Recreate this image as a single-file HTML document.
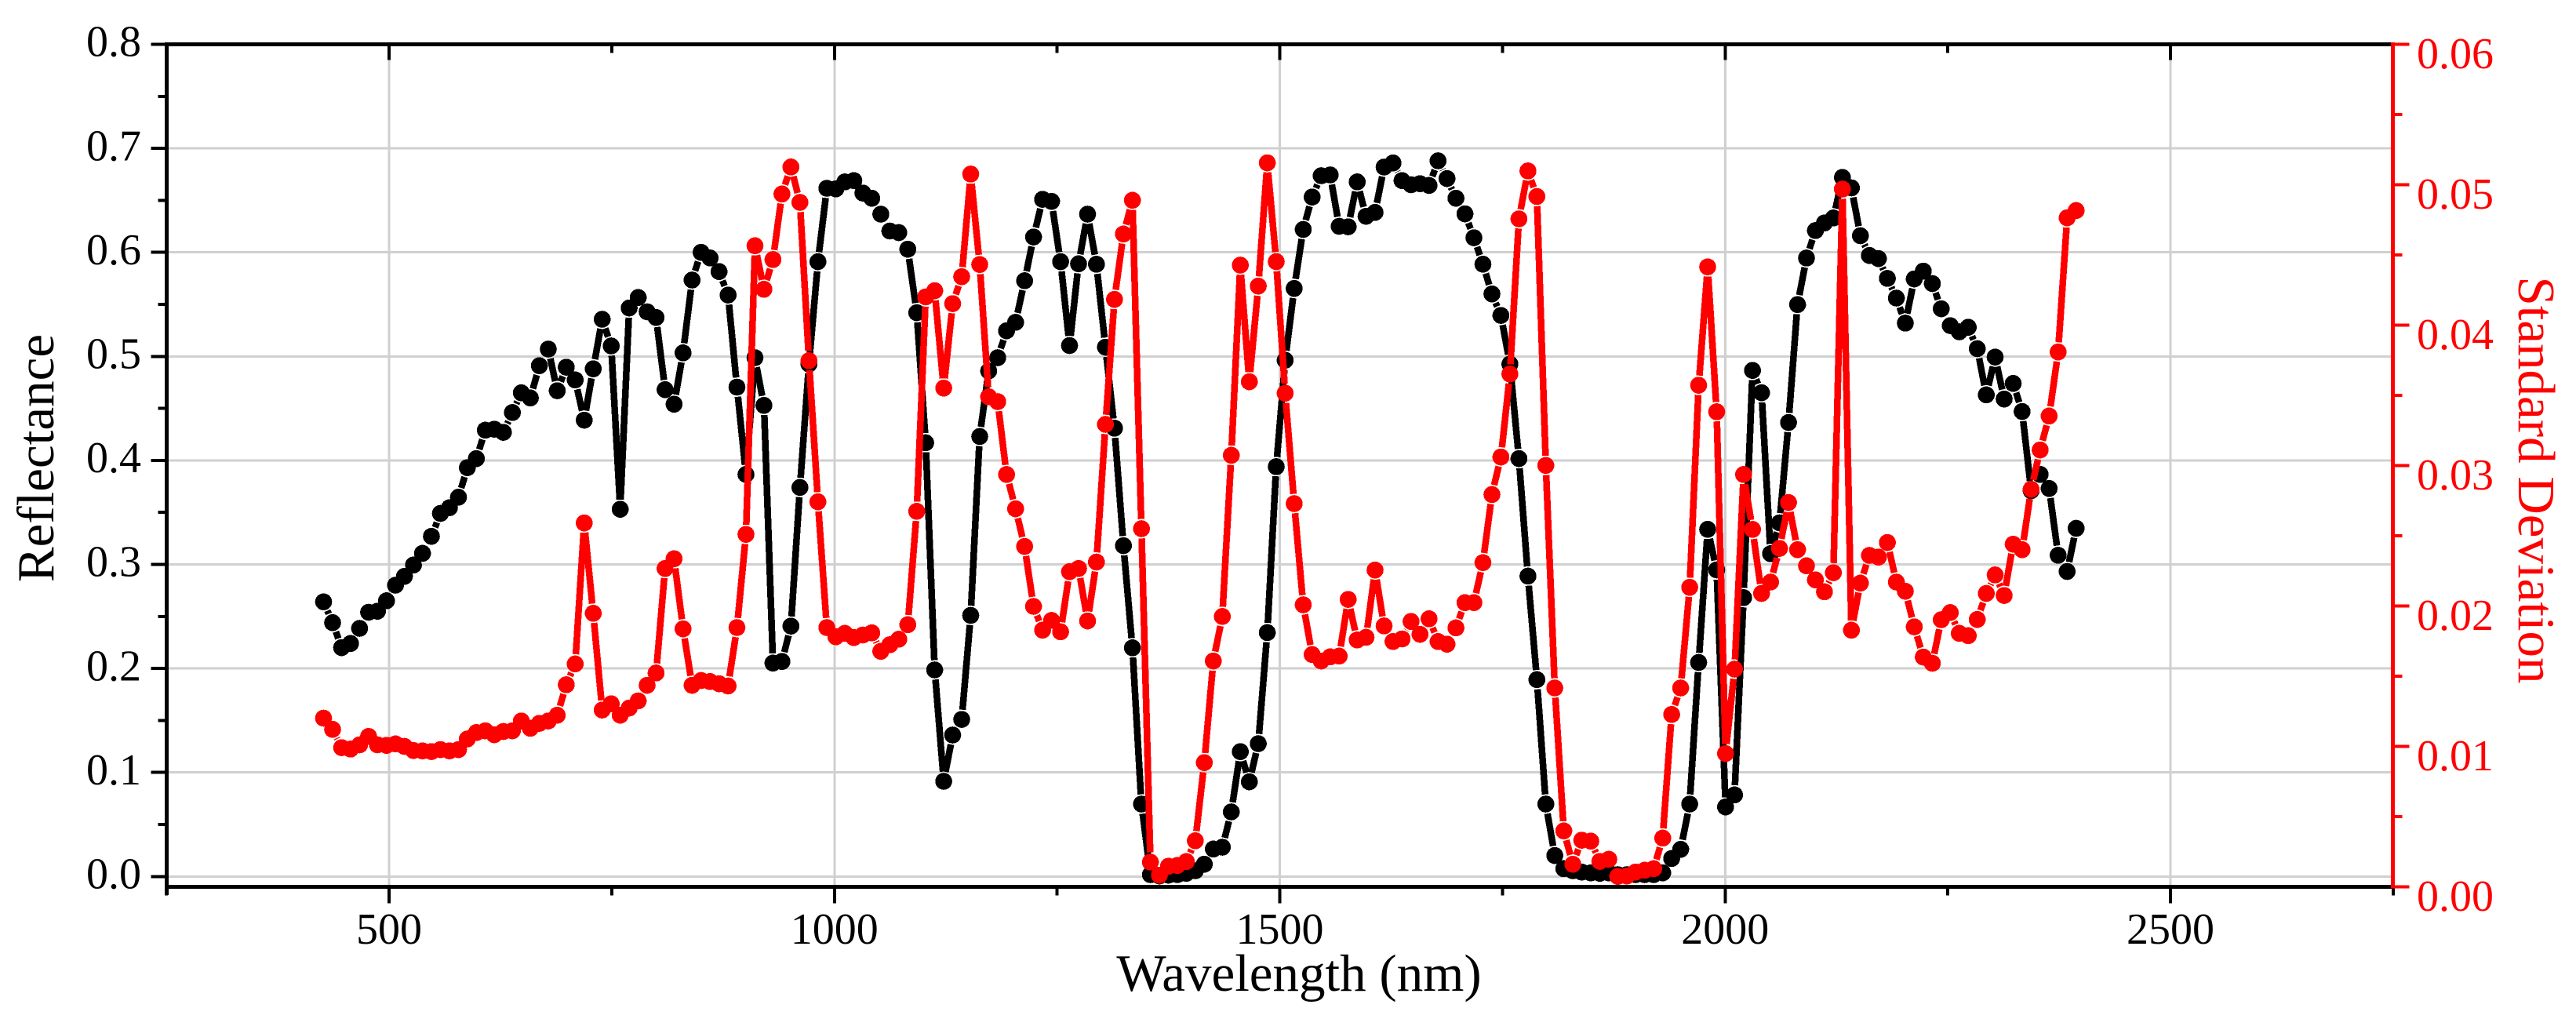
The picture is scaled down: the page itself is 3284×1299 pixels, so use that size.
<!DOCTYPE html>
<html lang="en">
<head>
<meta charset="utf-8">
<title>Reflectance and standard deviation by wavelength</title>
<style>
html,body{margin:0;padding:0;background:#fff;}
svg{display:block;font-family:"Liberation Serif","Times New Roman",serif;}
#grid,#series-black,#series-red,#axes{shape-rendering:crispEdges;}
</style>
</head>
<body>
<svg id="chart" xmlns="http://www.w3.org/2000/svg" width="3284" height="1299" viewBox="0 0 3284 1299">
  <rect x="0" y="0" width="3284" height="1299" fill="#ffffff"/>
  <g id="grid"></g>
  <g id="series-black"></g>
  <g id="series-red"></g>
  <g id="axes"></g>
  <g id="labels"></g>
  <text x="1656" y="1263" font-size="67" text-anchor="middle" fill="#000">Wavelength (nm)</text>
  <text transform="translate(68 584) rotate(-90)" font-size="67" text-anchor="middle" fill="#000">Reflectance</text>
  <text transform="translate(3211 612) rotate(90)" font-size="67" text-anchor="middle" fill="#ff0000">Standard Deviation</text>
</svg>
<script>
const wavelengths = [
426.5,436.6,446.7,456.8,466.9,477.0,487.0,497.1,507.2,517.3,
527.4,537.5,547.6,557.7,567.8,577.9,587.9,598.0,608.1,618.2,
628.3,638.4,648.5,658.6,668.7,678.8,688.8,698.9,709.0,719.1,
729.2,739.3,749.4,759.5,769.6,779.7,789.7,799.8,809.9,820.0,
830.1,840.2,850.3,860.4,870.5,880.6,890.6,900.7,910.8,920.9,
931.0,941.1,951.2,961.3,971.4,981.5,991.5,1001.6,1011.7,1021.8,
1031.9,1042.0,1052.1,1062.2,1072.3,1082.4,1092.4,1102.5,1112.6,1122.7,
1132.8,1142.9,1153.0,1163.1,1173.2,1183.3,1193.3,1203.4,1213.5,1223.6,
1233.7,1243.8,1253.9,1264.0,1274.1,1284.2,1294.2,1304.3,1314.4,1324.5,
1334.6,1344.7,1354.8,1364.9,1375.0,1385.1,1395.1,1405.2,1415.3,1425.4,
1435.5,1445.6,1455.7,1465.8,1475.9,1486.0,1496.0,1506.1,1516.2,1526.3,
1536.4,1546.5,1556.6,1566.7,1576.8,1586.9,1596.9,1607.0,1617.1,1627.2,
1637.3,1647.4,1657.5,1667.6,1677.7,1687.8,1697.8,1707.9,1718.0,1728.1,
1738.2,1748.3,1758.4,1768.5,1778.6,1788.7,1798.7,1808.8,1818.9,1829.0,
1839.1,1849.2,1859.3,1869.4,1879.5,1889.6,1899.6,1909.7,1919.8,1929.9,
1940.0,1950.1,1960.2,1970.3,1980.4,1990.5,2000.5,2010.6,2020.7,2030.8,
2040.9,2051.0,2061.1,2071.2,2081.3,2091.4,2101.4,2111.5,2121.6,2131.7,
2141.8,2151.9,2162.0,2172.1,2182.2,2192.3,2202.3,2212.4,2222.5,2232.6,
2242.7,2252.8,2262.9,2273.0,2283.1,2293.2,2303.2,2313.3,2323.4,2333.5,
2343.6,2353.7,2363.8,2373.9,2384.0,2394.1
];
const reflectance = [
0.264,0.244,0.220,0.224,0.2385,0.254,0.255,0.265,0.280,0.2885,
0.2994,0.3106,0.327,0.349,0.3545,0.3646,0.393,0.4017,0.429,0.430,
0.427,0.446,0.465,0.460,0.491,0.507,0.467,0.4896,0.4774,0.4387,
0.488,0.5357,0.510,0.353,0.5465,0.5566,0.5428,0.5374,0.468,0.454,
0.5034,0.5734,0.600,0.5946,0.5815,0.559,0.4704,0.3865,0.4987,0.4529,
0.2051,0.2067,0.2407,0.374,0.4926,0.591,0.6616,0.661,0.6677,0.669,
0.657,0.652,0.6367,0.6205,0.619,0.603,0.542,0.417,0.1986,0.0915,
0.136,0.151,0.251,0.423,0.486,0.4987,0.5246,0.5327,0.5727,0.6148,
0.651,0.649,0.591,0.5104,0.589,0.6367,0.5886,0.5088,0.431,0.318,
0.2198,0.0696,0.0017,0.0005,0.0013,0.0017,0.003,0.0055,0.0118,0.0264,
0.0281,0.0621,0.120,0.091,0.1277,0.2345,0.394,0.4963,0.5653,0.622,
0.6532,0.6737,0.6744,0.625,0.6246,0.6677,0.6347,0.6384,0.682,0.686,
0.669,0.665,0.666,0.6643,0.688,0.671,0.652,0.637,0.614,0.5886,
0.560,0.5394,0.4926,0.4017,0.2888,0.1892,0.0696,0.0201,0.0075,0.0055,
0.0042,0.0035,0.003,0.0035,0.0017,0.0017,0.0017,0.0017,0.0017,0.0035,
0.0173,0.0261,0.0696,0.2057,0.3337,0.2947,0.0668,0.0784,0.268,0.4865,
0.465,0.3103,0.340,0.4364,0.5498,0.5946,0.621,0.6283,0.633,0.672,
0.662,0.616,0.597,0.594,0.575,0.556,0.532,0.5744,0.582,0.570,
0.5458,0.5296,0.5236,0.528,0.5074,0.463,0.4993,0.459,0.474,0.447,
0.371,0.3865,0.373,0.3088,0.2932,0.3347
];
const standardDeviation = [
0.0120,0.0112,0.0099,0.0098,0.0101,0.0107,0.0101,0.01006,0.01017,0.00999,
0.0097,0.00967,0.00962,0.00976,0.00967,0.00976,0.01052,0.01098,0.0111,0.01082,
0.01105,0.0111,0.0118,0.01128,0.01163,0.0118,0.01221,0.01438,0.01586,0.0259,
0.01947,0.01258,0.01302,0.01221,0.01272,0.01323,0.01434,0.01522,0.02266,0.02335,
0.01836,0.01434,0.01468,0.01461,0.01445,0.01429,0.01845,0.02509,0.04564,0.04254,
0.04466,0.04933,0.05125,0.04873,0.03746,0.02741,0.01845,0.0178,0.01804,0.01774,
0.01792,0.01808,0.01676,0.01723,0.01762,0.01866,0.02673,0.0420,0.04244,0.03551,
0.04152,0.04344,0.05075,0.04431,0.03489,0.03454,0.02935,0.02691,0.02423,0.01996,
0.01827,0.01896,0.01815,0.02243,0.02266,0.01892,0.02312,0.03292,0.04182,0.04648,
0.04888,0.02549,0.00175,0.00082,0.00145,0.00151,0.00179,0.00327,0.00883,0.01607,
0.01924,0.03072,0.04426,0.03596,0.04277,0.05155,0.04451,0.03514,0.02728,0.02007,
0.01653,0.01607,0.01637,0.01642,0.02046,0.01757,0.01776,0.02255,0.01857,0.01746,
0.01764,0.01889,0.01797,0.01908,0.01746,0.01727,0.01843,0.02023,0.02023,0.02308,
0.02793,0.0306,0.03651,0.04756,0.05097,0.04915,0.0300,0.01415,0.00397,0.0016,
0.00331,0.00324,0.0018,0.00195,0.00073,0.00076,0.00104,0.00117,0.00128,0.00346,
0.01226,0.01415,0.02132,0.03571,0.04414,0.03382,0.00948,0.01549,0.02935,0.02544,
0.02088,0.02169,0.02409,0.02736,0.0240,0.02285,0.02185,0.0210,0.02236,0.04968,
0.01827,0.02162,0.02359,0.02347,0.02451,0.02169,0.02104,0.0185,0.01635,0.01591,
0.01901,0.01952,0.01804,0.01787,0.01903,0.02088,0.0222,0.02074,0.02439,0.0240,
0.0283,0.0311,0.03352,0.03808,0.04763,0.04815
];
const xMajorTicks = [500,1000,1500,2000,2500];
const xMinorTicks = [250,750,1250,1750,2250,2750];
const leftMajorTicks = ["0.0","0.1","0.2","0.3","0.4","0.5","0.6","0.7","0.8"];
const leftMinorTicks = [0.05,0.15,0.25,0.35,0.45,0.55,0.65,0.75];
const rightMajorTicks = ["0.00","0.01","0.02","0.03","0.04","0.05","0.06"];
const rightMinorTicks = [0.005,0.015,0.025,0.035,0.045,0.055];

const NS = 'http://www.w3.org/2000/svg';
const xScale = function (w) { return 496 + (w - 500) * 1.1355; };
const yLeft = function (v) { return 1117.3 - v * 1326; };
const yRight = function (v) { return 1130.3 - v * 17900; };
const left = 212.5, right = 3050.5, top_ = 56.5, bottom = 1130.3;

function make(parent, tag, attrs) {
  const el = document.createElementNS(NS, tag);
  for (const k in attrs) el.setAttribute(k, attrs[k]);
  parent.appendChild(el);
  return el;
}
const grid = document.getElementById('grid');
const axes = document.getElementById('axes');
const labels = document.getElementById('labels');

xMajorTicks.forEach(function (t) {
  const g = make(grid, 'line', {x1: xScale(t), x2: xScale(t), y1: top_, y2: bottom, stroke: '#d0d0d0', 'stroke-width': 3});
  
  
});
leftMajorTicks.forEach(function (t) {
  if (t === '0.8') return;
  const g = make(grid, 'line', {x1: left, x2: right, y1: yLeft(+t), y2: yLeft(+t), stroke: '#d0d0d0', 'stroke-width': 3});
  
  
});

function drawSeries(groupId, xs, ys, yFn, color, lw, nameLine, nameDot) {
  const group = document.getElementById(groupId);
  const r = 10.8, gap = 1.5;
  const pts = xs.map(function (w, i) { return [xScale(w), yFn(ys[i])]; });
  let d = '';
  for (let i = 0; i < pts.length - 1; i++) {
    const a = pts[i], b = pts[i + 1];
    const dx = b[0] - a[0], dy = b[1] - a[1];
    const len = Math.hypot(dx, dy);
    const cut = r + gap;
    if (len <= cut * 2) continue;
    const ux = dx / len, uy = dy / len;
    d += 'M' + (a[0] + ux * cut).toFixed(1) + ' ' + (a[1] + uy * cut).toFixed(1) +
         'L' + (b[0] - ux * cut).toFixed(1) + ' ' + (b[1] - uy * cut).toFixed(1);
  }
  const line = make(group, 'path', {d: d, fill: 'none', stroke: color, 'stroke-width': lw});
  
  
  pts.forEach(function (p) {
    const c = make(group, 'circle', {cx: p[0].toFixed(1), cy: p[1].toFixed(1), r: r, fill: color});
    
    
  });
}
drawSeries('series-black', wavelengths, reflectance, yLeft, '#000000', 8.5, 'reflectance-line', 'reflectance-point');
drawSeries('series-red', wavelengths, standardDeviation, yRight, '#ff0000', 8.5, 'standard-deviation-line', 'standard-deviation-point');

function tick(x1, y1, x2, y2, color, w) {
  const t = make(axes, 'line', {x1: x1, y1: y1, x2: x2, y2: y2, stroke: color, 'stroke-width': w});
  
  
}
// frame
const topAxis = make(axes, 'line', {x1: left - 2.5, x2: right + 2.5, y1: top_, y2: top_, stroke: '#000', 'stroke-width': 5});


const bottomAxis = make(axes, 'line', {x1: left - 2.5, x2: right + 2.5, y1: bottom, y2: bottom, stroke: '#000', 'stroke-width': 5});


const leftAxis = make(axes, 'line', {x1: left, x2: left, y1: top_ - 2.5, y2: bottom + 10.5, stroke: '#000', 'stroke-width': 5});



xMajorTicks.forEach(function (t) {
  tick(xScale(t), bottom, xScale(t), bottom + 21, '#000', 4);
  tick(xScale(t), top_, xScale(t), top_ + 20, '#000', 4);
  const s = make(labels, 'text', {x: xScale(t), y: 1203, 'font-size': 56, 'text-anchor': 'middle', fill: '#000'});
  
  
  s.textContent = String(t);
});
xMinorTicks.forEach(function (t) {
  tick(xScale(t), bottom, xScale(t), bottom + 11, '#000', 4);
  if (t !== 250 && t !== 2750) tick(xScale(t), top_, xScale(t), top_ + 11, '#000', 4);
});
leftMajorTicks.forEach(function (t) {
  tick(left, yLeft(+t), left - 20, yLeft(+t), '#000', 4);
  const s = make(labels, 'text', {x: 180, y: yLeft(+t) + 15.2, 'font-size': 56, 'text-anchor': 'end', fill: '#000'});
  
  
  s.textContent = t;
});
leftMinorTicks.forEach(function (t) {
  tick(left, yLeft(t), left - 11, yLeft(t), '#000', 4);
});
const rightAxis = make(axes, 'line', {x1: right, x2: right, y1: top_ - 2.5, y2: bottom + 2, stroke: '#ff0000', 'stroke-width': 5});


rightMajorTicks.forEach(function (t) {
  tick(right, yRight(+t), right + 21, yRight(+t), '#ff0000', 4);
  const s = make(labels, 'text', {x: 3081, y: yRight(+t) + 30.5, 'font-size': 56, 'text-anchor': 'start', fill: '#ff0000'});
  
  
  s.textContent = t;
});
rightMinorTicks.forEach(function (t) {
  tick(right, yRight(t), right + 12, yRight(t), '#ff0000', 4);
});
</script>
</body>
</html>
